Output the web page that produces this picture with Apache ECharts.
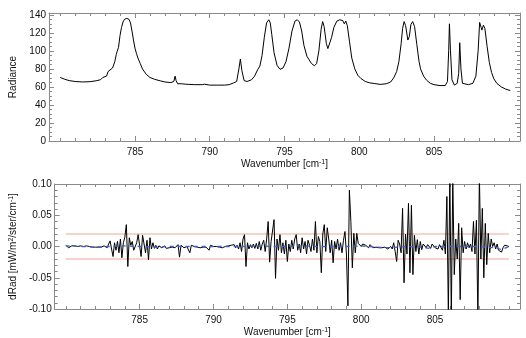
<!DOCTYPE html>
<html>
<head>
<meta charset="utf-8">
<script src="https://cdn.jsdelivr.net/npm/echarts@6/dist/echarts.min.js"></script>
<style>
  html, body { margin: 0; padding: 0; background: #fff; }
  #chart { width: 526px; height: 338px; }
</style>
</head>
<body>
<div id="chart"></div>
<script>
// Measured radiance spectrum: [wavenumber (cm^-1), radiance]
const radianceSpectrum = [
  [780.0, 70.5], [780.3, 68.5], [780.6, 67.0], [781.0, 66.0], [781.5, 65.5],
  [782.0, 65.8], [782.4, 66.8], [782.7, 68.0], [782.85, 70.5], [782.95, 69.5],
  [783.1, 72.0], [783.2, 77.0], [783.3, 76.0], [783.5, 81.0], [783.65, 88.0],
  [783.75, 96.0], [783.8, 99.0], [783.9, 104.0], [784.0, 117.0], [784.1, 126.0],
  [784.2, 132.0], [784.3, 135.0], [784.45, 136.0], [784.6, 135.0], [784.7, 131.0],
  [784.8, 122.0], [784.9, 112.0], [785.0, 103.0], [785.1, 97.0], [785.2, 92.0],
  [785.35, 86.0], [785.5, 80.0], [785.6, 78.0], [785.75, 74.0], [786.0, 70.5],
  [786.3, 68.5], [786.7, 66.7], [787.0, 65.5], [787.4, 64.8], [787.6, 66.0],
  [787.68, 72.0], [787.75, 67.0], [787.85, 63.5], [788.1, 63.5], [788.4, 63.0],
  [788.5, 64.0], [788.6, 62.8], [789.0, 62.5], [789.5, 62.5], [789.65, 63.0],
  [789.7, 65.0], [789.78, 62.5], [790.0, 62.0], [790.5, 62.0], [791.0, 62.0],
  [791.3, 62.5], [791.6, 64.5], [791.8, 66.0], [791.95, 80.0], [792.05, 91.0],
  [792.15, 78.0], [792.3, 67.0], [792.5, 66.0], [792.8, 68.0], [793.0, 72.0],
  [793.2, 79.0], [793.35, 83.0], [793.5, 95.0], [793.65, 115.0], [793.8, 131.0],
  [793.95, 134.5], [794.05, 131.0], [794.15, 118.0], [794.3, 98.0], [794.5, 84.0],
  [794.7, 79.5], [794.9, 81.0], [795.1, 88.0], [795.3, 103.0], [795.5, 122.0],
  [795.7, 133.0], [795.85, 134.5], [796.0, 132.0], [796.15, 122.0], [796.3, 106.0],
  [796.5, 94.0], [796.6, 93.0], [796.8, 86.0], [797.0, 83.5], [797.15, 86.0],
  [797.3, 100.0], [797.45, 124.0], [797.55, 132.5], [797.65, 127.0], [797.8, 108.0],
  [797.9, 102.5], [798.0, 104.0], [798.15, 115.0], [798.3, 126.0], [798.5, 133.0],
  [798.7, 134.5], [798.9, 133.5], [799.0, 130.0], [799.1, 133.0], [799.2, 128.0],
  [799.35, 110.0], [799.5, 92.0], [799.7, 80.0], [799.9, 73.0], [800.1, 69.5],
  [800.4, 66.0], [800.7, 64.5], [801.0, 63.8], [801.4, 62.8], [801.8, 63.5],
  [802.1, 65.5], [802.3, 70.0], [802.5, 77.0], [802.65, 88.0], [802.8, 108.0],
  [802.9, 125.0], [803.0, 132.5], [803.1, 128.0], [803.25, 112.0], [803.35, 116.0],
  [803.45, 129.0], [803.57, 132.5], [803.7, 127.0], [803.85, 107.0], [804.0, 88.0],
  [804.1, 80.0], [804.3, 72.0], [804.5, 67.5], [804.75, 64.0], [805.0, 62.5],
  [805.4, 61.5], [805.75, 61.5], [805.9, 66.0], [805.98, 100.0], [806.03, 130.0],
  [806.1, 100.0], [806.2, 68.0], [806.36, 62.0], [806.55, 64.0], [806.65, 75.0],
  [806.72, 109.0], [806.8, 80.0], [806.9, 64.0], [807.0, 62.0], [807.3, 62.5],
  [807.6, 64.0], [807.8, 72.0], [807.95, 100.0], [808.05, 131.5], [808.15, 126.0],
  [808.2, 123.0], [808.3, 128.5], [808.4, 125.0], [808.55, 105.0], [808.7, 87.0],
  [808.85, 76.0], [809.0, 69.0], [809.2, 64.0], [809.5, 60.0], [809.8, 57.5],
  [810.1, 56.0]
];

// Residual (dRad) sampled every 0.1 cm^-1 starting at 780.0
const residualStart = 780.0;
const residualStep = 0.1;
const residualValues = [
  0.002, 0.000, -0.002, -0.004, 0.001, -0.001, 0.001, -0.002, 0.000, -0.001,
  0.001, -0.001, 0.000, -0.002, 0.001, -0.001, 0.000, -0.002, -0.001, 0.000,
  -0.001, -0.002, -0.001, 0.001, -0.001, 0.000, 0.001, 0.003, -0.002, 0.004,
  0.009, -0.004, -0.016, 0.006, -0.006, 0.008, -0.010, 0.012, -0.018, 0.006,
  0.015, 0.035, -0.032, 0.014, 0.002, 0.008, -0.006, -0.004, 0.006, 0.019,
  0.021, -0.016, 0.018, 0.004, -0.010, 0.010, -0.021, 0.014, -0.004, 0.006,
  -0.003, 0.002, -0.004, 0.001, 0.003, -0.002, -0.001, 0.001, -0.003, 0.000,
  -0.002, 0.001, -0.001, 0.002, -0.002, 0.000, 0.003, -0.017, 0.002, 0.000,
  -0.002, 0.001, 0.000, -0.002, -0.010, 0.002, -0.001, 0.000, 0.001, -0.001,
  0.000, -0.002, 0.001, -0.001, 0.000, -0.001, 0.002, -0.006, 0.002, -0.001,
  0.000, -0.001, 0.000, 0.001, -0.001, 0.000, -0.002, 0.001, 0.000, -0.001,
  0.001, -0.002, 0.002, -0.001, 0.003, -0.002, 0.002, -0.004, 0.006, -0.008,
  0.012, 0.019, -0.032, 0.006, -0.004, 0.003, -0.002, 0.004, -0.003, 0.005,
  -0.004, 0.008, -0.006, 0.004, 0.010, -0.008, 0.012, 0.040, -0.025, 0.008,
  0.010, 0.043, -0.051, 0.012, -0.006, 0.019, -0.010, 0.006, -0.012, 0.010,
  -0.024, 0.004, -0.008, 0.010, -0.004, 0.012, 0.019, -0.006, 0.004, -0.010,
  0.014, -0.004, 0.008, -0.012, 0.010, 0.002, -0.008, 0.012, -0.006, 0.040,
  -0.010, 0.016, 0.008, -0.042, 0.020, 0.035, -0.008, 0.030, 0.012, -0.010,
  0.010, -0.026, 0.008, -0.004, 0.012, -0.006, 0.006, -0.010, 0.010, 0.024,
  -0.012, -0.095, 0.090, 0.040, -0.034, 0.021, -0.010, 0.021, 0.005, 0.008,
  0.000, 0.004, 0.006, 0.002, 0.004, -0.002, 0.003, 0.000, -0.002, 0.001,
  -0.001, 0.002, -0.002, 0.000, -0.002, 0.001, -0.001, -0.003, -0.004, -0.002,
  0.000, -0.004, 0.006, -0.008, -0.024, 0.010, 0.004, -0.010, 0.061, -0.058,
  0.020, -0.012, 0.069, -0.042, 0.066, -0.045, 0.018, -0.008, 0.011, -0.012,
  0.008, -0.005, 0.004, 0.006, -0.002, 0.003, 0.000, -0.003, 0.004, 0.002,
  -0.002, 0.001, -0.004, 0.003, 0.006, -0.006, 0.010, -0.012, 0.080, -0.110,
  0.115, -0.115, 0.110, -0.045, 0.012, -0.020, 0.037, -0.085, 0.030, -0.010,
  0.008, -0.004, 0.006, -0.002, 0.004, -0.008, 0.040, -0.012, 0.042, -0.115,
  0.115, -0.020, 0.061, -0.050, 0.037, -0.029, 0.021, -0.010, 0.012, 0.000,
  0.006, -0.004, 0.004, -0.006, -0.008, -0.009, -0.002, 0.002, 0.000, 0.001,
  0.000
];

// Smoothed residual (dashed blue)
const smoothResidual = [
  [780, 0.001], [781, 0.000], [782, -0.001], [783, 0.000], [784, 0.001],
  [785, 0.000], [786, -0.001], [787, 0.000], [788, 0.000], [789, 0.000],
  [790, 0.000], [791, 0.000], [792, 0.000], [793, 0.001], [794, 0.000],
  [795, 0.000], [796, 0.001], [797, 0.000], [798, 0.000], [799, 0.000],
  [800, 0.001], [801, -0.001], [802, -0.002], [803, 0.000], [804, -0.001],
  [804.6, -0.003], [805, 0.000], [806, 0.000], [807, 0.000], [808, 0.000],
  [809, -0.002], [809.5, -0.005], [810, 0.000]
];

// Tolerance band
const toleranceLevel = 0.02;
const toleranceSpan = [780.0, 810.0];

// Axis ticks
const xMajorTicks = [785, 790, 795, 800, 805];
const xMinorTicks = [780, 781, 782, 783, 784, 786, 787, 788, 789, 791, 792, 793, 794,
  796, 797, 798, 799, 801, 802, 803, 804, 806, 807, 808, 809, 810];
const xRange = [779.25, 810.75];
const radianceRange = [0, 142];
const residualRange = [-0.1, 0.1];

const residualSeries = residualValues.map((v, i) =>
  [+(residualStart + i * residualStep).toFixed(2), v]);

const FONT = 'Liberation Sans';
const AXIS_GRAY = '#8a8a8a';
const TEXT = '#111';
const BAND = '#f4a397';
const supRich = {
  sup: { fontSize: 7, fontFamily: FONT, color: TEXT, verticalAlign: 'top', lineHeight: 8 }
};

function xAxesFor(gridIndex, withName) {
  const base = {
    type: 'value', gridIndex, min: xRange[0], max: xRange[1],
    splitLine: { show: false }
  };
  return [
    Object.assign({}, base, {
      position: 'bottom',
      axisLine: { show: true, onZero: false, lineStyle: { color: AXIS_GRAY, width: 1 } },
      axisTick: { show: true, inside: true, length: 5, customValues: xMajorTicks,
        lineStyle: { color: AXIS_GRAY } },
      axisLabel: { show: true, customValues: xMajorTicks, color: TEXT, fontSize: 10,
        fontFamily: FONT, margin: 6 },
      name: withName ? 'Wavenumber [cm{sup|-1}]' : '',
      nameLocation: 'middle', nameGap: 18,
      nameTextStyle: { fontSize: 10, fontFamily: FONT, color: TEXT, rich: supRich }
    }),
    Object.assign({}, base, {
      position: 'bottom',
      axisLine: { show: false, onZero: false },
      axisTick: { show: true, inside: true, length: 3, customValues: xMinorTicks,
        lineStyle: { color: AXIS_GRAY } },
      axisLabel: { show: false }
    }),
    Object.assign({}, base, {
      position: 'top',
      axisLine: { show: true, onZero: false, lineStyle: { color: AXIS_GRAY, width: 1 } },
      axisTick: { show: true, inside: true, length: 5, customValues: xMajorTicks,
        lineStyle: { color: AXIS_GRAY } },
      axisLabel: { show: false }
    }),
    Object.assign({}, base, {
      position: 'top',
      axisLine: { show: false, onZero: false },
      axisTick: { show: true, inside: true, length: 3, customValues: xMinorTicks,
        lineStyle: { color: AXIS_GRAY } },
      axisLabel: { show: false }
    })
  ];
}

function yAxesFor(gridIndex, range, interval, split, fmt, name) {
  const base = {
    type: 'value', gridIndex, min: range[0], max: range[1], interval,
    splitLine: { show: false },
    axisLine: { show: true, onZero: false, lineStyle: { color: AXIS_GRAY, width: 1 } },
    axisTick: { show: true, inside: true, length: 5, lineStyle: { color: AXIS_GRAY } },
    minorTick: { show: true, splitNumber: split, length: 3, lineStyle: { color: AXIS_GRAY } }
  };
  return [
    Object.assign({}, base, {
      position: 'left',
      axisLabel: { show: true, color: TEXT, fontSize: 10, fontFamily: FONT, margin: 3,
        formatter: fmt, showMaxLabel: range[1] % interval === 0 ? null : false },
      name, nameLocation: 'middle', nameGap: 25, nameRotate: 90,
      nameTextStyle: { fontSize: 10, fontFamily: FONT, color: TEXT, rich: supRich }
    }),
    Object.assign({}, base, {
      position: 'right',
      axisLabel: { show: false }
    })
  ];
}

const chart = echarts.init(document.getElementById('chart'), null, { renderer: 'canvas' });

chart.setOption({
  animation: false,
  backgroundColor: '#fff',
  grid: [
    { left: 49, right: 6, top: 13, height: 128, show: false },
    { left: 49, right: 6, top: 184, height: 126, show: false }
  ],
  xAxis: [...xAxesFor(0, true), ...xAxesFor(1, true)],
  yAxis: [
    ...yAxesFor(0, radianceRange, 20, 4, v => String(v), 'Radiance'),
    ...yAxesFor(1, residualRange, 0.05, 5, v => v.toFixed(2),
      'dRad [mW/m{sup|2}/ster/cm{sup|-1}]')
  ],
  series: [
    {
      type: 'line', xAxisIndex: 0, yAxisIndex: 0, data: radianceSpectrum,
      showSymbol: false, lineStyle: { color: '#000', width: 1 }, silent: true
    },
    {
      type: 'line', xAxisIndex: 4, yAxisIndex: 2,
      data: [[toleranceSpan[0], toleranceLevel], [toleranceSpan[1], toleranceLevel]],
      showSymbol: false, lineStyle: { color: BAND, width: 1 }, silent: true
    },
    {
      type: 'line', xAxisIndex: 4, yAxisIndex: 2,
      data: [[toleranceSpan[0], -toleranceLevel], [toleranceSpan[1], -toleranceLevel]],
      showSymbol: false, lineStyle: { color: BAND, width: 1 }, silent: true
    },
    {
      type: 'line', xAxisIndex: 4, yAxisIndex: 2, data: residualSeries,
      showSymbol: false, clip: true, lineStyle: { color: '#000', width: 1 }, silent: true
    },
    {
      type: 'line', xAxisIndex: 4, yAxisIndex: 2, data: smoothResidual,
      showSymbol: false, lineStyle: { color: '#3f63c8', width: 1.3, type: [4, 4] }, silent: true
    }
  ]
});
</script>
</body>
</html>
